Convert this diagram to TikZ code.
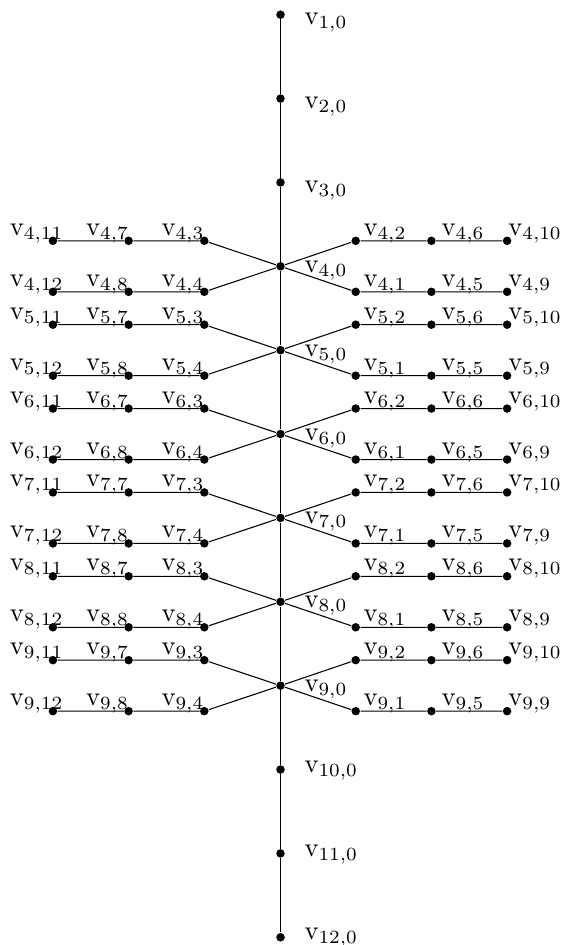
\documentclass[tikz,border=0pt]{standalone}
\usetikzlibrary{calc}
\tikzset{
  dot/.style={circle,fill=black,inner sep=0pt,minimum size=3.2pt},
  lbl/.style={inner sep=0pt,anchor=base west},
  edgeline/.style={line width=0.4pt}
}
\begin{document}
\begin{tikzpicture}[x=0.013193cm,y=-0.013193cm]
\useasboundingbox (0,0) rectangle (561,945);
% central chain
\foreach \i/\dy in {1/10,2/10,3/10,4/6,5/6,6/6,7/6,8/6,9/6,10/2.7,11/2.7,12/2.7}{
  \pgfmathsetmacro{\yy}{14.7+(\i-1)*83.87}
  \node[dot] (v\i-0) at (280.5,\yy) {};
  \node[lbl] (l\i-0) at (304,\yy+\dy) {$\mathrm{v}_{\i,0}$};
}
\foreach \i in {1,...,11}{
  \pgfmathtruncatemacro{\j}{\i+1}
  \draw[edgeline] (v\i-0) -- (v\j-0);
}
% side branches
\foreach \i in {4,...,9}{
  \pgfmathsetmacro{\yc}{14.7+(\i-1)*83.87}
  \pgfmathsetmacro{\yt}{\yc-25.5}
  \pgfmathsetmacro{\yb}{\yc+25.5}
  \foreach \k/\x/\dx/\yrow in {11/52.9/-43.5/\yt, 7/128.6/-43/\yt, 3/204.3/-43.3/\yt,
                               12/52.9/-43.5/\yb, 8/128.6/-43/\yb, 4/204.3/-43.3/\yb,
                               2/355.7/7.3/\yt, 6/431.4/9.7/\yt, 10/507.1/0.7/\yt,
                               1/355.7/7.3/\yb, 5/431.4/9.7/\yb, 9/507.1/0.7/\yb}{
    \node[dot] (v\i-\k) at (\x,\yrow) {};
    \node[lbl] (l\i-\k) at (\x+\dx,\yrow-5.5) {$\mathrm{v}_{\i,\k}$};
  }
  \draw[edgeline] (v\i-11) -- (v\i-7) -- (v\i-3) -- (v\i-0) -- (v\i-1) -- (v\i-5) -- (v\i-9);
  \draw[edgeline] (v\i-12) -- (v\i-8) -- (v\i-4) -- (v\i-0) -- (v\i-2) -- (v\i-6) -- (v\i-10);
}
\end{tikzpicture}
\end{document}
